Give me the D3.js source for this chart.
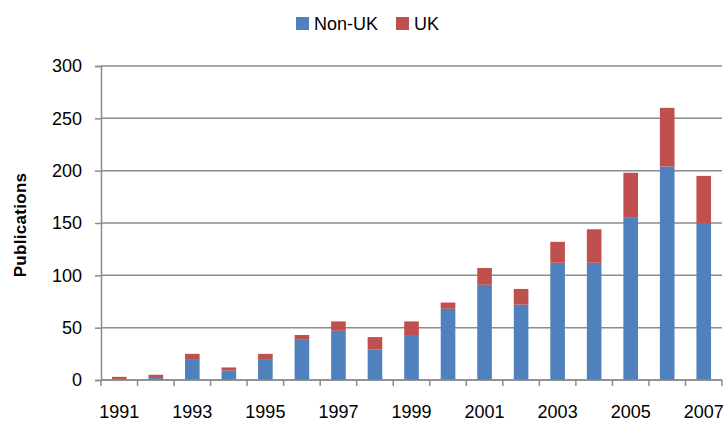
<!DOCTYPE html>
<html>
<head>
<meta charset="utf-8">
<script src="https://cdn.jsdelivr.net/npm/d3@7"></script>
<style>
  body { margin: 0; background: #fff; }
  text { font-family: "Liberation Sans", Arial, sans-serif; fill: #000; }
</style>
</head>
<body>
<div id="chart"></div>
<script>
var years = ["1991","1992","1993","1994","1995","1996","1997","1998","1999",
             "2000","2001","2002","2003","2004","2005","2006","2007"];
var nonUK = [1, 2, 20, 9, 20, 39, 47, 29, 43, 68, 91, 72, 112, 112, 155, 204, 150];
var uk    = [2, 3, 5, 3, 5, 4, 9, 12, 13, 6, 16, 15, 20, 32, 43, 56, 45];
var seriesNames = ["Non-UK", "UK"];
var yTicks = [0, 50, 100, 150, 200, 250, 300];
var colors = ["#4F81BD", "#C0504D"];

var width = 726, height = 423;
var margin = {left: 101, right: 4, top: 66, bottom: 43};

var svg = d3.select("#chart").append("svg")
  .attr("width", width)
  .attr("height", height);

var x = d3.scaleBand()
  .domain(years)
  .range([margin.left, width - margin.right])
  .paddingInner(0.6)
  .paddingOuter(0.3);

var y = d3.scaleLinear()
  .domain([0, 300])
  .range([height - margin.bottom, margin.top]);

// gridlines
svg.append("g")
  .selectAll("line")
  .data(yTicks)
  .enter().append("line")
  .attr("x1", margin.left)
  .attr("x2", width - margin.right)
  .attr("y1", function(d) { return y(d); })
  .attr("y2", function(d) { return y(d); })
  .attr("stroke", "#8c8c8c")
  .attr("stroke-width", 1.5);

// stacked bars
var table = years.map(function(yr, i) {
  return {year: yr, "Non-UK": nonUK[i], "UK": uk[i]};
});
var stack = d3.stack().keys(seriesNames)(table);

svg.append("g")
  .selectAll("g")
  .data(stack)
  .enter().append("g")
  .attr("fill", function(d, i) { return colors[i]; })
  .selectAll("rect")
  .data(function(d) { return d; })
  .enter().append("rect")
  .attr("x", function(d) { return x(d.data.year); })
  .attr("width", x.bandwidth())
  .attr("y", function(d) { return y(d[1]); })
  .attr("height", function(d) { return y(d[0]) - y(d[1]); });

// y axis
var yAxis = svg.append("g")
  .attr("transform", "translate(" + margin.left + ",0)")
  .call(d3.axisLeft(y).tickValues(yTicks).tickSize(6).tickPadding(13));
yAxis.select(".domain").attr("stroke", "#8c8c8c").attr("stroke-width", 1.5);
yAxis.selectAll(".tick line").attr("stroke", "#8c8c8c").attr("stroke-width", 1.5);
yAxis.selectAll("text").style("font-size", "18px");

// x axis: ticks at category boundaries
var xBase = height - margin.bottom;
var x0 = margin.left;
var boundaries = d3.range(years.length + 1);
svg.append("line")
  .attr("x1", margin.left).attr("x2", width - margin.right)
  .attr("y1", xBase).attr("y2", xBase)
  .attr("stroke", "#8c8c8c").attr("stroke-width", 1.5);
svg.append("g")
  .selectAll("line")
  .data(boundaries)
  .enter().append("line")
  .attr("x1", function(d) { return x0 + d * x.step(); })
  .attr("x2", function(d) { return x0 + d * x.step(); })
  .attr("y1", xBase).attr("y2", xBase + 6)
  .attr("stroke", "#8c8c8c").attr("stroke-width", 1.5);

svg.append("g")
  .selectAll("text")
  .data(years.filter(function(d, i) { return i % 2 === 0; }))
  .enter().append("text")
  .attr("x", function(d) { return x(d) + x.bandwidth() / 2; })
  .attr("y", xBase + 38)
  .attr("text-anchor", "middle")
  .style("font-size", "18px")
  .text(function(d) { return d; });

// y title
svg.append("text")
  .attr("transform", "translate(26,225) rotate(-90)")
  .attr("text-anchor", "middle")
  .style("font-size", "17px")
  .style("font-weight", "bold")
  .style("letter-spacing", "0.3px")
  .text("Publications");

// legend
var legend = svg.append("g");
var legendX = [296, 396];
seriesNames.forEach(function(name, i) {
  legend.append("rect")
    .attr("x", legendX[i]).attr("y", 17)
    .attr("width", 13).attr("height", 13)
    .attr("fill", colors[i]);
  legend.append("text")
    .attr("x", legendX[i] + 18).attr("y", 30)
    .style("font-size", "18px")
    .text(name);
});
</script>
</body>
</html>
